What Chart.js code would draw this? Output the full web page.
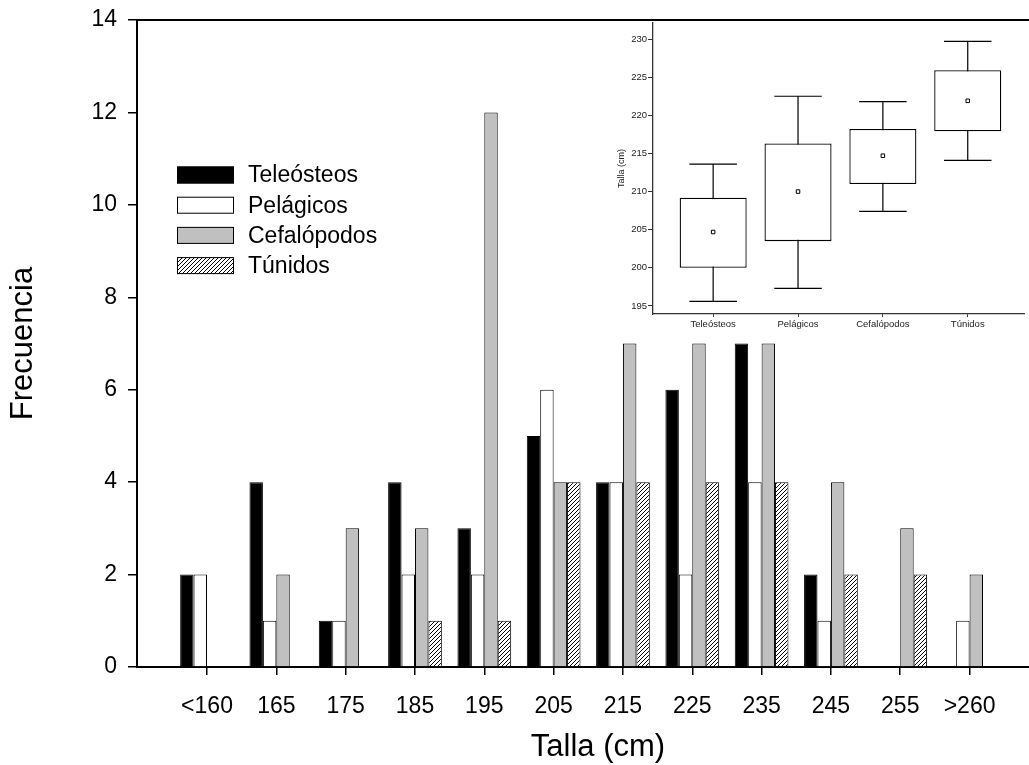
<!DOCTYPE html>
<html>
<head>
<meta charset="utf-8">
<script src="https://cdn.jsdelivr.net/npm/chart.js@4.4.1/dist/chart.umd.min.js"></script>
<style>
  html, body { margin: 0; padding: 0; background: #fff; overflow: hidden; }
  #wrap { position: relative; width: 1029px; height: 765px; overflow: hidden; }
  #main { position: absolute; left: 0; top: 0; width: 1059px; height: 765px; }
  #inset { position: absolute; left: 600px; top: 0; width: 429px; height: 345px; }
</style>
</head>
<body>
<div id="wrap">
  <canvas id="main" width="1059" height="765"></canvas>
  <canvas id="inset" width="429" height="345"></canvas>
</div>
<script>
// Size classes (cm) and frequency per prey group
const sizeLabels = ['<160', '165', '175', '185', '195', '205', '215', '225', '235', '245', '255', '>260'];
const teleosteos = [2, 4, 1, 4, 3, 5, 4, 6, 7, 2, 0, 0];
const pelagicos = [2, 1, 1, 2, 2, 6, 4, 2, 4, 1, 0, 1];
const cefalopodos = [0, 2, 3, 3, 12, 4, 7, 7, 7, 4, 3, 2];
const tunidos = [0, 0, 0, 1, 1, 4, 4, 4, 4, 2, 2, 0];
const freqTicks = [0, 2, 4, 6, 8, 10, 12, 14];

// Inset box plot: size by prey group
const groups = ['Teleósteos', 'Pelágicos', 'Cefalópodos', 'Túnidos'];
const boxLow = [195.6, 197.3, 207.4, 214.1];
const boxQ1 = [200.0, 203.5, 211.0, 217.9];
const boxQ3 = [209.2, 216.3, 218.2, 225.9];
const boxHigh = [213.6, 222.5, 221.8, 229.7];
const boxMean = [204.7, 210.0, 214.7, 221.9];
const tallaTicks = [195, 200, 205, 210, 215, 220, 225, 230];

Chart.defaults.font.family = 'Arial, "Liberation Sans", sans-serif';
Chart.defaults.color = '#000';

const mainCtx = document.getElementById('main').getContext('2d');

// diagonal hatch used for Túnidos
function makeHatch() {
    const c = document.createElement('canvas');
    c.width = 4; c.height = 4;
    const g = c.getContext('2d');
    g.fillStyle = '#fff';
    g.fillRect(0, 0, 4, 4);
    g.strokeStyle = '#000';
    g.lineWidth = 1;
    g.beginPath();
    g.moveTo(0, 4); g.lineTo(4, 0);
    g.moveTo(-1, 1); g.lineTo(1, -1);
    g.moveTo(3, 5); g.lineTo(5, 3);
    g.stroke();
    return mainCtx.createPattern(c, 'repeat');
}
const hatch = makeHatch();

function toPoints(values) {
    return values.map((v, i) => ({ x: i, y: v }));
}

// top frame line + legend drawn inside the plot
const mainDecor = {
    id: 'mainDecor',
    afterDraw(chart) {
        const ctx = chart.ctx;
        const area = chart.chartArea;
        ctx.save();
        ctx.strokeStyle = '#000';
        ctx.lineWidth = 2;
        ctx.beginPath();
        ctx.moveTo(area.left - 1, area.top);
        ctx.lineTo(area.right, area.top);
        ctx.stroke();

        chart.data.datasets.forEach((ds, i) => {
            const y = 175 + i * 30.2;
            ctx.fillStyle = ds.backgroundColor;
            ctx.fillRect(177, y - 8.5, 57, 17);
            ctx.strokeStyle = '#000';
            ctx.lineWidth = 1;
            ctx.strokeRect(177.5, y - 8, 56, 16);
            ctx.fillStyle = '#000';
            ctx.font = '23px Arial, "Liberation Sans", sans-serif';
            ctx.textBaseline = 'middle';
            ctx.textAlign = 'left';
            ctx.fillText(ds.label, 248, y + 1);
        });
        ctx.restore();
    }
};

new Chart(mainCtx, {
    type: 'bar',
    data: {
        datasets: [
            { label: 'Teleósteos', data: toPoints(teleosteos), backgroundColor: '#000' },
            { label: 'Pelágicos', data: toPoints(pelagicos), backgroundColor: '#fff' },
            { label: 'Cefalópodos', data: toPoints(cefalopodos), backgroundColor: '#c0c0c0' },
            { label: 'Túnidos', data: toPoints(tunidos), backgroundColor: hatch }
        ]
    },
    options: {
        responsive: false,
        animation: false,
        layout: { padding: { top: 20, right: 0, bottom: 0, left: 0 } },
        datasets: {
            bar: {
                borderColor: '#000',
                borderWidth: 1,
                categoryPercentage: 0.775,
                barPercentage: 1.0
            }
        },
        scales: {
            x: {
                type: 'linear',
                offset: false,
                min: -1.01,
                max: 12.29,
                afterBuildTicks: s => { s.ticks = sizeLabels.map((_, i) => ({ value: i })); },
                afterFit: s => { s.height = 98; },
                ticks: {
                    callback: v => sizeLabels[v],
                    font: { size: 23 },
                    padding: 18,
                    maxRotation: 0,
                    autoSkip: false
                },
                grid: { offset: false, drawOnChartArea: false, tickLength: 8, color: '#000', lineWidth: 1.5 },
                border: { color: '#000', width: 2 },
                title: { display: true, text: 'Talla (cm)', font: { size: 31 }, padding: { top: 0, bottom: -1.5 } }
            },
            y: {
                min: 0,
                max: 14,
                afterBuildTicks: s => { s.ticks = freqTicks.map(v => ({ value: v })); },
                afterFit: s => { s.width = 137; s.paddingTop = 0; s.paddingBottom = 0; },
                ticks: { font: { size: 23 }, padding: 11 },
                grid: { drawOnChartArea: false, tickLength: 9, color: '#000', lineWidth: 1.5 },
                border: { color: '#000', width: 2 },
                title: { display: true, text: 'Frecuencia', font: { size: 31 }, padding: { top: 5, bottom: 0 } }
            }
        },
        plugins: {
            legend: { display: false },
            tooltip: { enabled: false }
        }
    },
    plugins: [mainDecor]
});

// whiskers and caps behind the boxes
const whiskers = {
    id: 'whiskers',
    beforeDatasetsDraw(chart) {
        const ctx = chart.ctx;
        const xs = chart.scales.x, ys = chart.scales.y;
        ctx.save();
        ctx.strokeStyle = '#000';
        ctx.lineWidth = 1.2;
        groups.forEach((g, i) => {
            const x = xs.getPixelForValue(i);
            const x0 = xs.getPixelForValue(i - 0.28);
            const x1 = xs.getPixelForValue(i + 0.28);
            const yLo = ys.getPixelForValue(boxLow[i]);
            const yHi = ys.getPixelForValue(boxHigh[i]);
            ctx.beginPath();
            ctx.moveTo(x, yLo); ctx.lineTo(x, yHi);
            ctx.moveTo(x0, yLo); ctx.lineTo(x1, yLo);
            ctx.moveTo(x0, yHi); ctx.lineTo(x1, yHi);
            ctx.stroke();
        });
        ctx.restore();
    }
};

new Chart(document.getElementById('inset').getContext('2d'), {
    type: 'bar',
    data: {
        datasets: [
            {
                type: 'bar',
                order: 1,
                data: groups.map((g, i) => ({ x: i, y: [boxQ1[i], boxQ3[i]] })),
                backgroundColor: '#fff',
                borderColor: '#000',
                borderWidth: 1.3,
                borderSkipped: false,
                categoryPercentage: 0.79,
                barPercentage: 1.0
            },
            {
                type: 'scatter',
                order: 0,
                data: groups.map((g, i) => ({ x: i, y: boxMean[i] })),
                pointStyle: 'rect',
                radius: 2.5,
                backgroundColor: '#fff',
                borderColor: '#000',
                borderWidth: 1
            }
        ]
    },
    options: {
        responsive: false,
        animation: false,
        layout: { padding: { top: 23, right: 0, bottom: 0, left: 0 } },
        scales: {
            x: {
                type: 'linear',
                offset: false,
                min: -0.709,
                max: 3.663,
                afterBuildTicks: s => { s.ticks = groups.map((_, i) => ({ value: i })); },
                afterFit: s => { s.height = 31; },
                ticks: { callback: v => groups[v], font: { size: 9.5 }, color: '#222', padding: 2, maxRotation: 0, autoSkip: false },
                grid: { offset: false, drawOnChartArea: false, tickLength: 3, color: '#333' },
                border: { color: '#333', width: 1.3 }
            },
            y: {
                min: 193.95,
                max: 232.1,
                afterBuildTicks: s => { s.ticks = tallaTicks.map(v => ({ value: v })); },
                afterFit: s => { s.width = 53; },
                ticks: { font: { size: 9.5 }, color: '#222', padding: 1 },
                grid: { drawOnChartArea: false, tickLength: 5, color: '#333' },
                border: { color: '#333', width: 1.3 },
                title: { display: true, text: 'Talla (cm)', font: { size: 9 }, color: '#222', padding: { top: 16.5, bottom: 0 } }
            }
        },
        plugins: {
            legend: { display: false },
            tooltip: { enabled: false }
        }
    },
    plugins: [whiskers]
});
</script>
</body>
</html>
